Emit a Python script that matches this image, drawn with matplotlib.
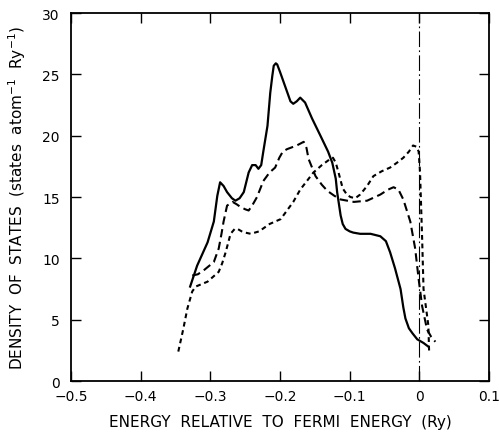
import matplotlib
matplotlib.use("Agg")
import matplotlib.pyplot as plt

# density of states curves (energy in Ry, DOS in states/atom/Ry)
solid_e = [-0.329, -0.319, -0.304, -0.295, -0.290, -0.286, -0.281, -0.276, -0.269, -0.264,
           -0.258, -0.252, -0.245, -0.240, -0.235, -0.231, -0.227, -0.224, -0.218, -0.214,
           -0.211, -0.209, -0.206, -0.204, -0.200, -0.195, -0.190, -0.185, -0.181, -0.176,
           -0.171, -0.164, -0.154, -0.142, -0.131, -0.125, -0.120, -0.118, -0.113, -0.110,
           -0.106, -0.100, -0.095, -0.085, -0.070, -0.056, -0.048, -0.042, -0.035, -0.027,
           -0.023, -0.020, -0.015, -0.010, -0.003, 0.006, 0.013]
solid_dos = [7.7, 9.4, 11.3, 13.0, 15.1, 16.2, 15.9, 15.4, 14.9, 14.7,
             14.9, 15.4, 17.0, 17.6, 17.6, 17.3, 17.6, 18.7, 20.8, 23.5,
             24.9, 25.7, 25.9, 25.8, 25.2, 24.4, 23.6, 22.8, 22.6, 22.8,
             23.1, 22.7, 21.4, 20.0, 18.7, 17.8, 16.5, 15.4, 13.5, 12.8,
             12.4, 12.2, 12.1, 12.0, 12.0, 11.8, 11.4, 10.5, 9.2, 7.5,
             6.0, 5.1, 4.3, 3.9, 3.4, 3.1, 2.8]

long_e = [-0.326, -0.318, -0.310, -0.295, -0.288, -0.284, -0.281, -0.276, -0.268, -0.262,
          -0.257, -0.250, -0.245, -0.240, -0.233, -0.224, -0.215, -0.207, -0.201, -0.196,
          -0.190, -0.176, -0.166, -0.162, -0.159, -0.149, -0.140, -0.132, -0.122, -0.113,
          -0.094, -0.075, -0.056, -0.045, -0.037, -0.030, -0.023, -0.013, -0.006, -0.001,
          0.004, 0.011, 0.017, 0.023]
long_dos = [8.6, 8.7, 9.0, 9.7, 10.8, 12.0, 13.0, 14.3, 14.6, 14.4,
            14.2, 14.0, 13.9, 14.3, 15.0, 16.3, 17.0, 17.4, 18.2, 18.7,
            18.9, 19.2, 19.5, 19.0, 18.1, 16.7, 16.0, 15.5, 15.1, 14.8,
            14.6, 14.7, 15.2, 15.6, 15.8, 15.6, 14.8, 13.0, 10.8, 8.3,
            6.1, 4.2, 3.6, 3.2]

short_e = [-0.346, -0.339, -0.333, -0.326, -0.321, -0.304, -0.288, -0.283, -0.278, -0.271,
           -0.265, -0.261, -0.255, -0.250, -0.242, -0.230, -0.215, -0.199, -0.181, -0.171,
           -0.152, -0.140, -0.128, -0.124, -0.120, -0.116, -0.110, -0.104, -0.099, -0.092,
           -0.085, -0.075, -0.066, -0.054, -0.042, -0.032, -0.023, -0.015, -0.009, -0.004,
           -0.001, 0.001, 0.004, 0.006, 0.013, 0.014]
short_dos = [2.4, 4.2, 5.9, 7.3, 7.7, 8.1, 8.9, 9.6, 10.5, 12.0,
             12.4, 12.4, 12.2, 12.1, 12.0, 12.2, 12.8, 13.2, 14.6, 15.6,
             17.0, 17.6, 18.1, 18.2, 17.8, 17.0, 15.7, 15.2, 15.0, 14.9,
             15.2, 15.9, 16.7, 17.1, 17.4, 17.8, 18.2, 18.7, 19.2, 19.1,
             18.7, 17.0, 11.6, 7.5, 4.5, 2.4]

x_ticks = [-0.5, -0.4, -0.3, -0.2, -0.1, 0, 0.1]
x_labels = ["\u22120.5", "\u22120.4", "\u22120.3", "\u22120.2", "\u22120.1", "0", "0.1"]
y_ticks = [0, 5, 10, 15, 20, 25, 30]

fig = plt.figure(figsize=(4.99, 4.35), dpi=100)
ax = fig.add_axes([0.1423, 0.1218, 0.8377, 0.846])

ax.plot(solid_e, solid_dos, color="black", lw=1.6, solid_joinstyle="round")
ax.plot(long_e, long_dos, color="black", lw=1.5, dashes=(4, 2.2))
ax.plot(short_e, short_dos, color="black", lw=1.5, dashes=(2.3, 1.8))

# Fermi level
ax.axvline(0, color="black", lw=0.8, dashes=(14, 3, 1.5, 3))

ax.set_xlim(-0.5, 0.1)
ax.set_ylim(0, 30)
ax.set_xticks(x_ticks)
ax.set_xticklabels(x_labels)
ax.set_yticks(y_ticks)
ax.tick_params(direction="in", length=7, width=1, labelsize=10,
               top=True, right=True, pad=6)
ax.tick_params(axis="y", pad=8)
for s in ax.spines.values():
    s.set_linewidth(1.3)

ax.set_xlabel("ENERGY  RELATIVE  TO  FERMI  ENERGY  (Ry)", fontsize=11, labelpad=8)
ax.set_ylabel("DENSITY  OF  STATES  (states  atom$^{-1}$  Ry$^{-1}$)", fontsize=11, labelpad=10)

fig.savefig("out.png", dpi=100)
